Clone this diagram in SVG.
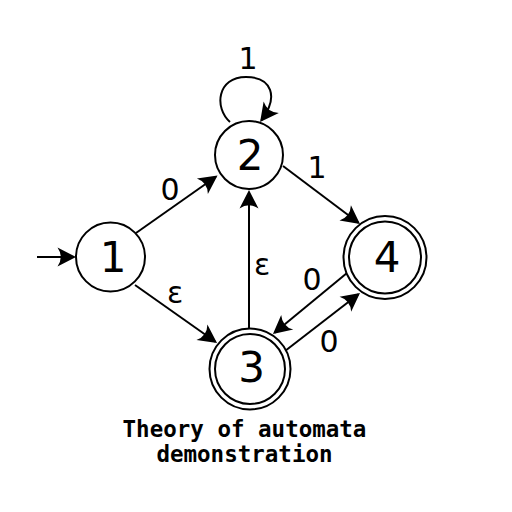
<svg xmlns="http://www.w3.org/2000/svg" width="512" height="512" viewBox="0 0 512 512">
  <style>
    .st { fill: #fff; stroke: #000; stroke-width: 2; }
    .ring { fill: none; stroke: #000; stroke-width: 2; }
    .lbl { font-family: "DejaVu Sans", sans-serif; font-size: 42px; text-anchor: middle; fill: #000; }
    .el { font-family: "DejaVu Sans", sans-serif; font-size: 30px; text-anchor: middle; fill: #000; }
    .cap { font-family: "DejaVu Sans Mono", "Liberation Mono", monospace; font-weight: bold; font-size: 22.5px; text-anchor: middle; fill: #000; }
    .edge { fill: none; stroke: #000; stroke-width: 2; marker-end: url(#arr); }
  </style>
  <defs>
    <marker id="arr" markerUnits="userSpaceOnUse" viewBox="-22 -12 26 24" markerWidth="26" markerHeight="24" refX="0" refY="0" orient="auto">
      <path d="M2,0 L-16.5,-9.5 Q-10,0 -16.5,9.5 Z" fill="#000"/>
    </marker>
  </defs>
  <rect width="512" height="512" fill="#fff"/>

  <g id="connectors">
    <path id="start" class="edge" d="M37,257 L74,257"/>
    <path id="e12" class="edge" d="M136,233 L215.9,176.7"/>
    <path id="e13" class="edge" d="M135,285 L215.4,341.8"/>
    <path id="e32" class="edge" d="M249,328 L249,192"/>
    <path id="e24" class="edge" d="M283,166 L358.4,222.8"/>
    <path id="e43" class="edge" d="M347,273 L274.5,332.7"/>
    <path id="e34" class="edge" d="M285,351 L358.4,294.2"/>
    <path id="e22" class="edge" d="M230,122 C214,108 217,77 246,77 C272,77 279,97 261.3,120.5"/>
  </g>

  <g id="edge-labels">
    <text class="el" x="248" y="69">1</text>
    <text class="el" x="170" y="200">0</text>
    <text class="el" x="317" y="178">1</text>
    <text class="el" x="175" y="303">ε</text>
    <text class="el" x="262" y="275">ε</text>
    <text class="el" x="312" y="290">0</text>
    <text class="el" x="329" y="352">0</text>
  </g>

  <g id="node1">
    <circle class="st" cx="110.5" cy="257" r="34.5"/>
    <text class="lbl" x="113" y="272">1</text>
  </g>
  <g id="node2">
    <circle class="st" cx="249" cy="155" r="34"/>
    <text class="lbl" x="250" y="170">2</text>
  </g>
  <g id="node3">
    <circle class="st" cx="250" cy="369" r="40.5"/>
    <circle class="ring" cx="250" cy="369" r="35"/>
    <text class="lbl" x="251.5" y="382">3</text>
  </g>
  <g id="node4">
    <circle class="st" cx="385" cy="257.5" r="41.5"/>
    <circle class="ring" cx="385" cy="257.5" r="36"/>
    <text class="lbl" x="387" y="272">4</text>
  </g>

  <g id="caption">
    <text class="cap" x="244.5" y="437">Theory of automata</text>
    <text class="cap" x="244.5" y="462">demonstration</text>
  </g>
</svg>
